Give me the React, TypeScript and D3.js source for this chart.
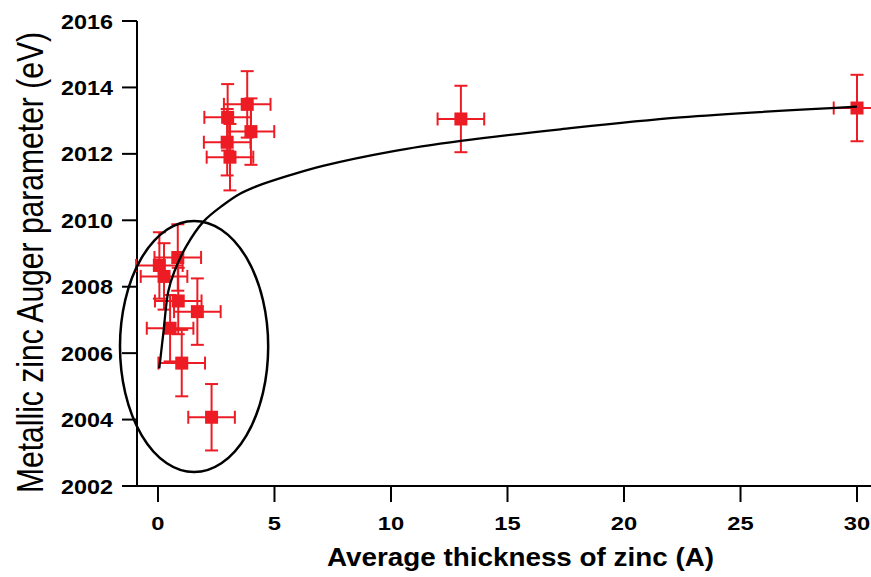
import React from 'react';
import * as d3 from 'd3';

// Measured points: average zinc thickness (A) vs metallic zinc Auger parameter (eV)
const thickness = [30, 13, 3.83, 2.99, 3.99, 2.97, 3.09, 0.85, 0.06, 0.26, 0.87, 1.69, 0.52, 1.02, 2.3];
const auger = [2013.38, 2013.05, 2013.49, 2013.1, 2012.67, 2012.35, 2011.9, 2008.88, 2008.64, 2008.31, 2007.57, 2007.25, 2006.75, 2005.7, 2004.07];
const thicknessErr = [1, 1, 1, 1, 1, 1, 1, 1, 1, 1, 1, 1, 1, 1, 1];
const augerErr = [1, 1, 1, 1, 1, 1, 1, 1, 1, 1, 1, 1, 1, 1, 1];

// Fitted trend curve
const fitThickness = [0.056, 0.23, 0.44, 0.7, 1.2, 1.95, 2.8, 3.52, 4.25, 5.67, 7.08, 10, 13, 17.27, 22.42, 30];
const fitAuger = [2005.54, 2006.6, 2007.85, 2008.45, 2009.2, 2009.96, 2010.46, 2010.8, 2011.03, 2011.36, 2011.64, 2012.07, 2012.39, 2012.74, 2013.1, 2013.42];

// Ellipse annotation (data units): centre and radii
const ellipseCentre = [1.55, 2006.2];
const ellipseRadii = [3.18, 3.78];

const xTicks = [0, 5, 10, 15, 20, 25, 30];
const yTicks = [2002, 2004, 2006, 2008, 2010, 2012, 2014, 2016];

const W = 871;
const H = 577;
const RED = '#ED1C24';
const FONT = 'Liberation Sans, Arial, Helvetica, sans-serif';

export default function App() {
  const x = d3.scaleLinear().domain([-0.9, 30.6]).range([137, 871]);
  const y = d3.scaleLinear().domain([2002, 2016]).range([486, 21]);
  const x0 = x(-0.9);
  const y0 = y(2002);

  const fitLine = d3
    .line<number>()
    .x((_, i) => x(fitThickness[i]))
    .y((d) => y(d))
    .curve(d3.curveCatmullRom.alpha(0.5));

  const pts = thickness.map((t, i) => ({ t, a: auger[i], ex: thicknessErr[i], ey: augerErr[i] }));
  const cap = 6.5;
  const sq = 13;

  const ecx = x(ellipseCentre[0]);
  const ecy = y(ellipseCentre[1]);
  const erx = x(ellipseCentre[0] + ellipseRadii[0]) - ecx;
  const ery = ecy - y(ellipseCentre[1] + ellipseRadii[1]);

  return (
    <svg
      width={W}
      height={H}
      style={{ position: 'absolute', left: 0, top: 0, background: '#fff' }}
      fontFamily={FONT}
    >
      <rect x={0} y={0} width={W} height={H} fill="#fff" />
      {/* axes */}
      <line x1={x0} x2={x0} y1={y(2016)} y2={y0} stroke="#000" strokeWidth={2} />
      <line x1={x0 - 15} x2={W} y1={y0} y2={y0} stroke="#000" strokeWidth={2} />
      {yTicks.map((v) => (
        <g key={'y' + v}>
          <line x1={x0 - 15} x2={x0} y1={y(v)} y2={y(v)} stroke="#000" strokeWidth={2} />
          <text
            x={113}
            y={y(v) + 7.5}
            textAnchor="end"
            fontSize={20.5}
            fontWeight="bold"
            textLength={52}
            lengthAdjust="spacingAndGlyphs"
          >
            {v}
          </text>
        </g>
      ))}
      {xTicks.map((v) => (
        <g key={'x' + v}>
          <line x1={x(v)} x2={x(v)} y1={y0} y2={y0 + 16} stroke="#000" strokeWidth={2} />
          <text
            x={x(v)}
            y={530}
            textAnchor="middle"
            fontSize={19}
            fontWeight="bold"
            textLength={String(v).length * 13.2}
            lengthAdjust="spacingAndGlyphs"
          >
            {v}
          </text>
        </g>
      ))}
      <text
        x={520.5}
        y={566}
        textAnchor="middle"
        fontSize={25}
        fontWeight="bold"
        textLength={387}
        lengthAdjust="spacingAndGlyphs"
      >
        Average thickness of zinc (A)
      </text>
      <text
        transform="translate(43,262.5) rotate(-90) scale(1,1.2)"
        textAnchor="middle"
        fontSize={30}
        textLength={461}
        lengthAdjust="spacingAndGlyphs"
      >
        Metallic zinc Auger parameter (eV)
      </text>

      {/* data with error bars */}
      {pts.map((p, i) => {
        const cx = x(p.t);
        const cy = y(p.a);
        const xl = x(p.t - p.ex);
        const xr = x(p.t + p.ex);
        const yt = y(p.a + p.ey);
        const yb = y(p.a - p.ey);
        return (
          <g key={'p' + i} stroke={RED} strokeWidth={2}>
            <line x1={xl} x2={xr} y1={cy} y2={cy} />
            <line x1={cx} x2={cx} y1={yt} y2={yb} />
            <line x1={xl} x2={xl} y1={cy - cap} y2={cy + cap} />
            <line x1={xr} x2={xr} y1={cy - cap} y2={cy + cap} />
            <line x1={cx - cap} x2={cx + cap} y1={yt} y2={yt} />
            <line x1={cx - cap} x2={cx + cap} y1={yb} y2={yb} />
            <rect x={cx - sq / 2} y={cy - sq / 2} width={sq} height={sq} fill={RED} stroke="none" />
          </g>
        );
      })}

      {/* fit curve */}
      <path d={fitLine(fitAuger) || ''} fill="none" stroke="#000" strokeWidth={2.3} />

      {/* ellipse annotation */}
      <ellipse cx={ecx} cy={ecy} rx={erx} ry={ery} fill="none" stroke="#000" strokeWidth={2.5} />
    </svg>
  );
}
